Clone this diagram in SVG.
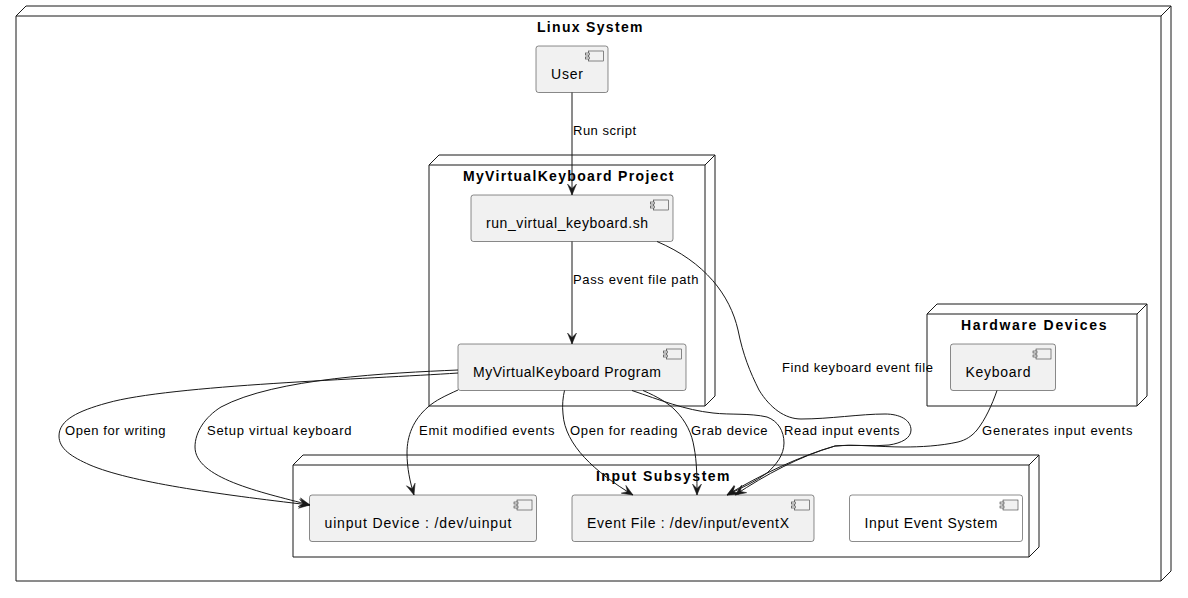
<svg xmlns="http://www.w3.org/2000/svg" width="1188" height="598" viewBox="0 0 1188 598">
<style>
text{font-family:"Liberation Sans",Arial,sans-serif;fill:#000}
.t{font-size:14px;font-weight:bold}
.n{font-size:14px}
.e{font-size:13px}
.f{fill:none;stroke:#181818;stroke-width:1}
.c{fill:#F1F1F1;stroke:#181818;stroke-width:.5}
.w{fill:#fff;stroke:#181818;stroke-width:.5}
.i{fill:#F1F1F1;stroke:#181818;stroke-width:.5}
.l{fill:none;stroke:#181818;stroke-width:1;marker-end:url(#a)}
</style>
<defs>
<marker id="a" markerUnits="userSpaceOnUse" markerWidth="14" markerHeight="12" refX="12" refY="6" orient="auto"><path d="M1,1.500 L12,6 L1,10.500 L5.500,6Z" fill="#181818" stroke="#181818" stroke-width=".5"/></marker>
<g id="ic"><rect class="i" x="0" y="0" width="15" height="10"/><rect class="i" x="-3" y="2" width="4" height="2"/><rect class="i" x="-3" y="6" width="4" height="2"/></g>
</defs>
<rect width="1188" height="598" fill="#fff"/>
<g id="linux-system"><path class="f" d="M16,16 L26,6 L1171,6 L1171,571 L1161,581 L16,581 Z M16,16 L1161,16 L1171,6 M1161,16 L1161,581"/><text class="t" x="537" y="32" textLength="105.500">Linux System</text></g>
<g id="project"><path class="f" d="M429,165 L439,155 L715,155 L715,396 L705,406 L429,406 Z M429,165 L705,165 L715,155 M705,165 L705,406"/><text class="t" x="463" y="181" textLength="210.500">MyVirtualKeyboard Project</text></g>
<g id="hardware"><path class="f" d="M927,314 L937,304 L1147,304 L1147,396 L1137,406 L927,406 Z M927,314 L1137,314 L1147,304 M1137,314 L1137,406"/><text class="t" x="961" y="330" textLength="145.500">Hardware Devices</text></g>
<g id="input-subsystem"><path class="f" d="M293,465 L303,455 L1039,455 L1039,547 L1029,557 L293,557 Z M293,465 L1029,465 L1039,455 M1029,465 L1029,557"/><text class="t" x="596" y="481" textLength="133.500">Input Subsystem</text></g>
<g id="user"><rect class="c" x="536" y="46" width="72" height="46.5" rx="2.5"/><use href="#ic" x="588.500" y="51"/><text class="n" x="551" y="79" textLength="32">User</text></g>
<g id="script"><rect class="c" x="471" y="195" width="202" height="46.5" rx="2.5"/><use href="#ic" x="653.500" y="200"/><text class="n" x="486" y="228" textLength="162">run_virtual_keyboard.sh</text></g>
<g id="program"><rect class="c" x="458" y="344" width="228" height="46.5" rx="2.5"/><use href="#ic" x="666.500" y="349"/><text class="n" x="473" y="377" textLength="188">MyVirtualKeyboard Program</text></g>
<g id="keyboard"><rect class="c" x="950.5" y="344" width="105" height="46.5" rx="2.5"/><use href="#ic" x="1036" y="349"/><text class="n" x="965.500" y="377" textLength="65">Keyboard</text></g>
<g id="uinput"><rect class="c" x="309.5" y="495" width="227" height="46.5" rx="2.5"/><use href="#ic" x="517" y="500"/><text class="n" x="324.500" y="528" textLength="187">uinput Device : /dev/uinput</text></g>
<g id="event-file"><rect class="c" x="572" y="495" width="242" height="46.5" rx="2.5"/><use href="#ic" x="794.500" y="500"/><text class="n" x="587" y="528" textLength="202">Event File : /dev/input/eventX</text></g>
<g id="input-event-system"><rect class="w" x="849.5" y="495" width="173" height="46.5" rx="2.5"/><use href="#ic" x="1003" y="500"/><text class="n" x="864.500" y="528" textLength="133">Input Event System</text></g>
<g id="connectors">
<path class="l" d="M572,92.5 L572,195"/>
<path class="l" d="M572,241.5 L572,344"/>
<path class="l" d="M458,373 C370,379 170,385 107,403 C78,411 59,420 59,436 C59,449 72,457 90,465 C130,482 215,494 310,505"/>
<path class="l" d="M458,370 C390,373 275,378 221,407 C205,417 195,432 195,447 C195,478 260,492 310,505"/>
<path class="l" d="M458,390 C445,396 436,400 428,407 C413,420 407,436 407,453 C407,468 410,482 414,495"/>
<path class="l" d="M564.5,390.5 C563,397 562,405 563,414 C565,445 595,472 633,495"/>
<path class="l" d="M643,390.5 C658,397 668,403 675,410 C686,421 692,434 694,447 C697,462 697,480 697,495"/>
<path class="l" d="M632,390.5 C660,400 685,410 713,413 C730,415 750,413 767,417 C778,421 784,431 784,443 C784,455 776,465 767,473 C755,482 741,488 727,495"/>
<path class="l" d="M657,241.5 C705,262 730,295 738,330 C743,355 750,372 759,390 C770,408 785,419 801,419 C830,419 860,414 885,414 C900,414 911,420 911,430 C911,438 902,443 889,445 C872,447 852,444 835,446 C800,456 765,475 735,495"/>
<path class="l" d="M997,390.5 C992,405 985,420 977,430 C972,436 966,440 958,442 C940,446 920,447 904,447 C880,447 855,444 835,446 C800,456 760,475 727,495"/>
</g>
<g id="labels">
<text class="e" x="573" y="135" textLength="63">Run script</text>
<text class="e" x="573" y="284" textLength="125.500">Pass event file path</text>
<text class="e" x="65" y="435" textLength="100.500">Open for writing</text>
<text class="e" x="207" y="435" textLength="144.500">Setup virtual keyboard</text>
<text class="e" x="419" y="435" textLength="135.500">Emit modified events</text>
<text class="e" x="570" y="435" textLength="107.500">Open for reading</text>
<text class="e" x="691" y="435" textLength="76.500">Grab device</text>
<text class="e" x="784" y="435" textLength="115.500">Read input events</text>
<text class="e" x="782" y="372" textLength="151">Find keyboard event file</text>
<text class="e" x="982" y="435" textLength="150.500">Generates input events</text>
</g>
</svg>
